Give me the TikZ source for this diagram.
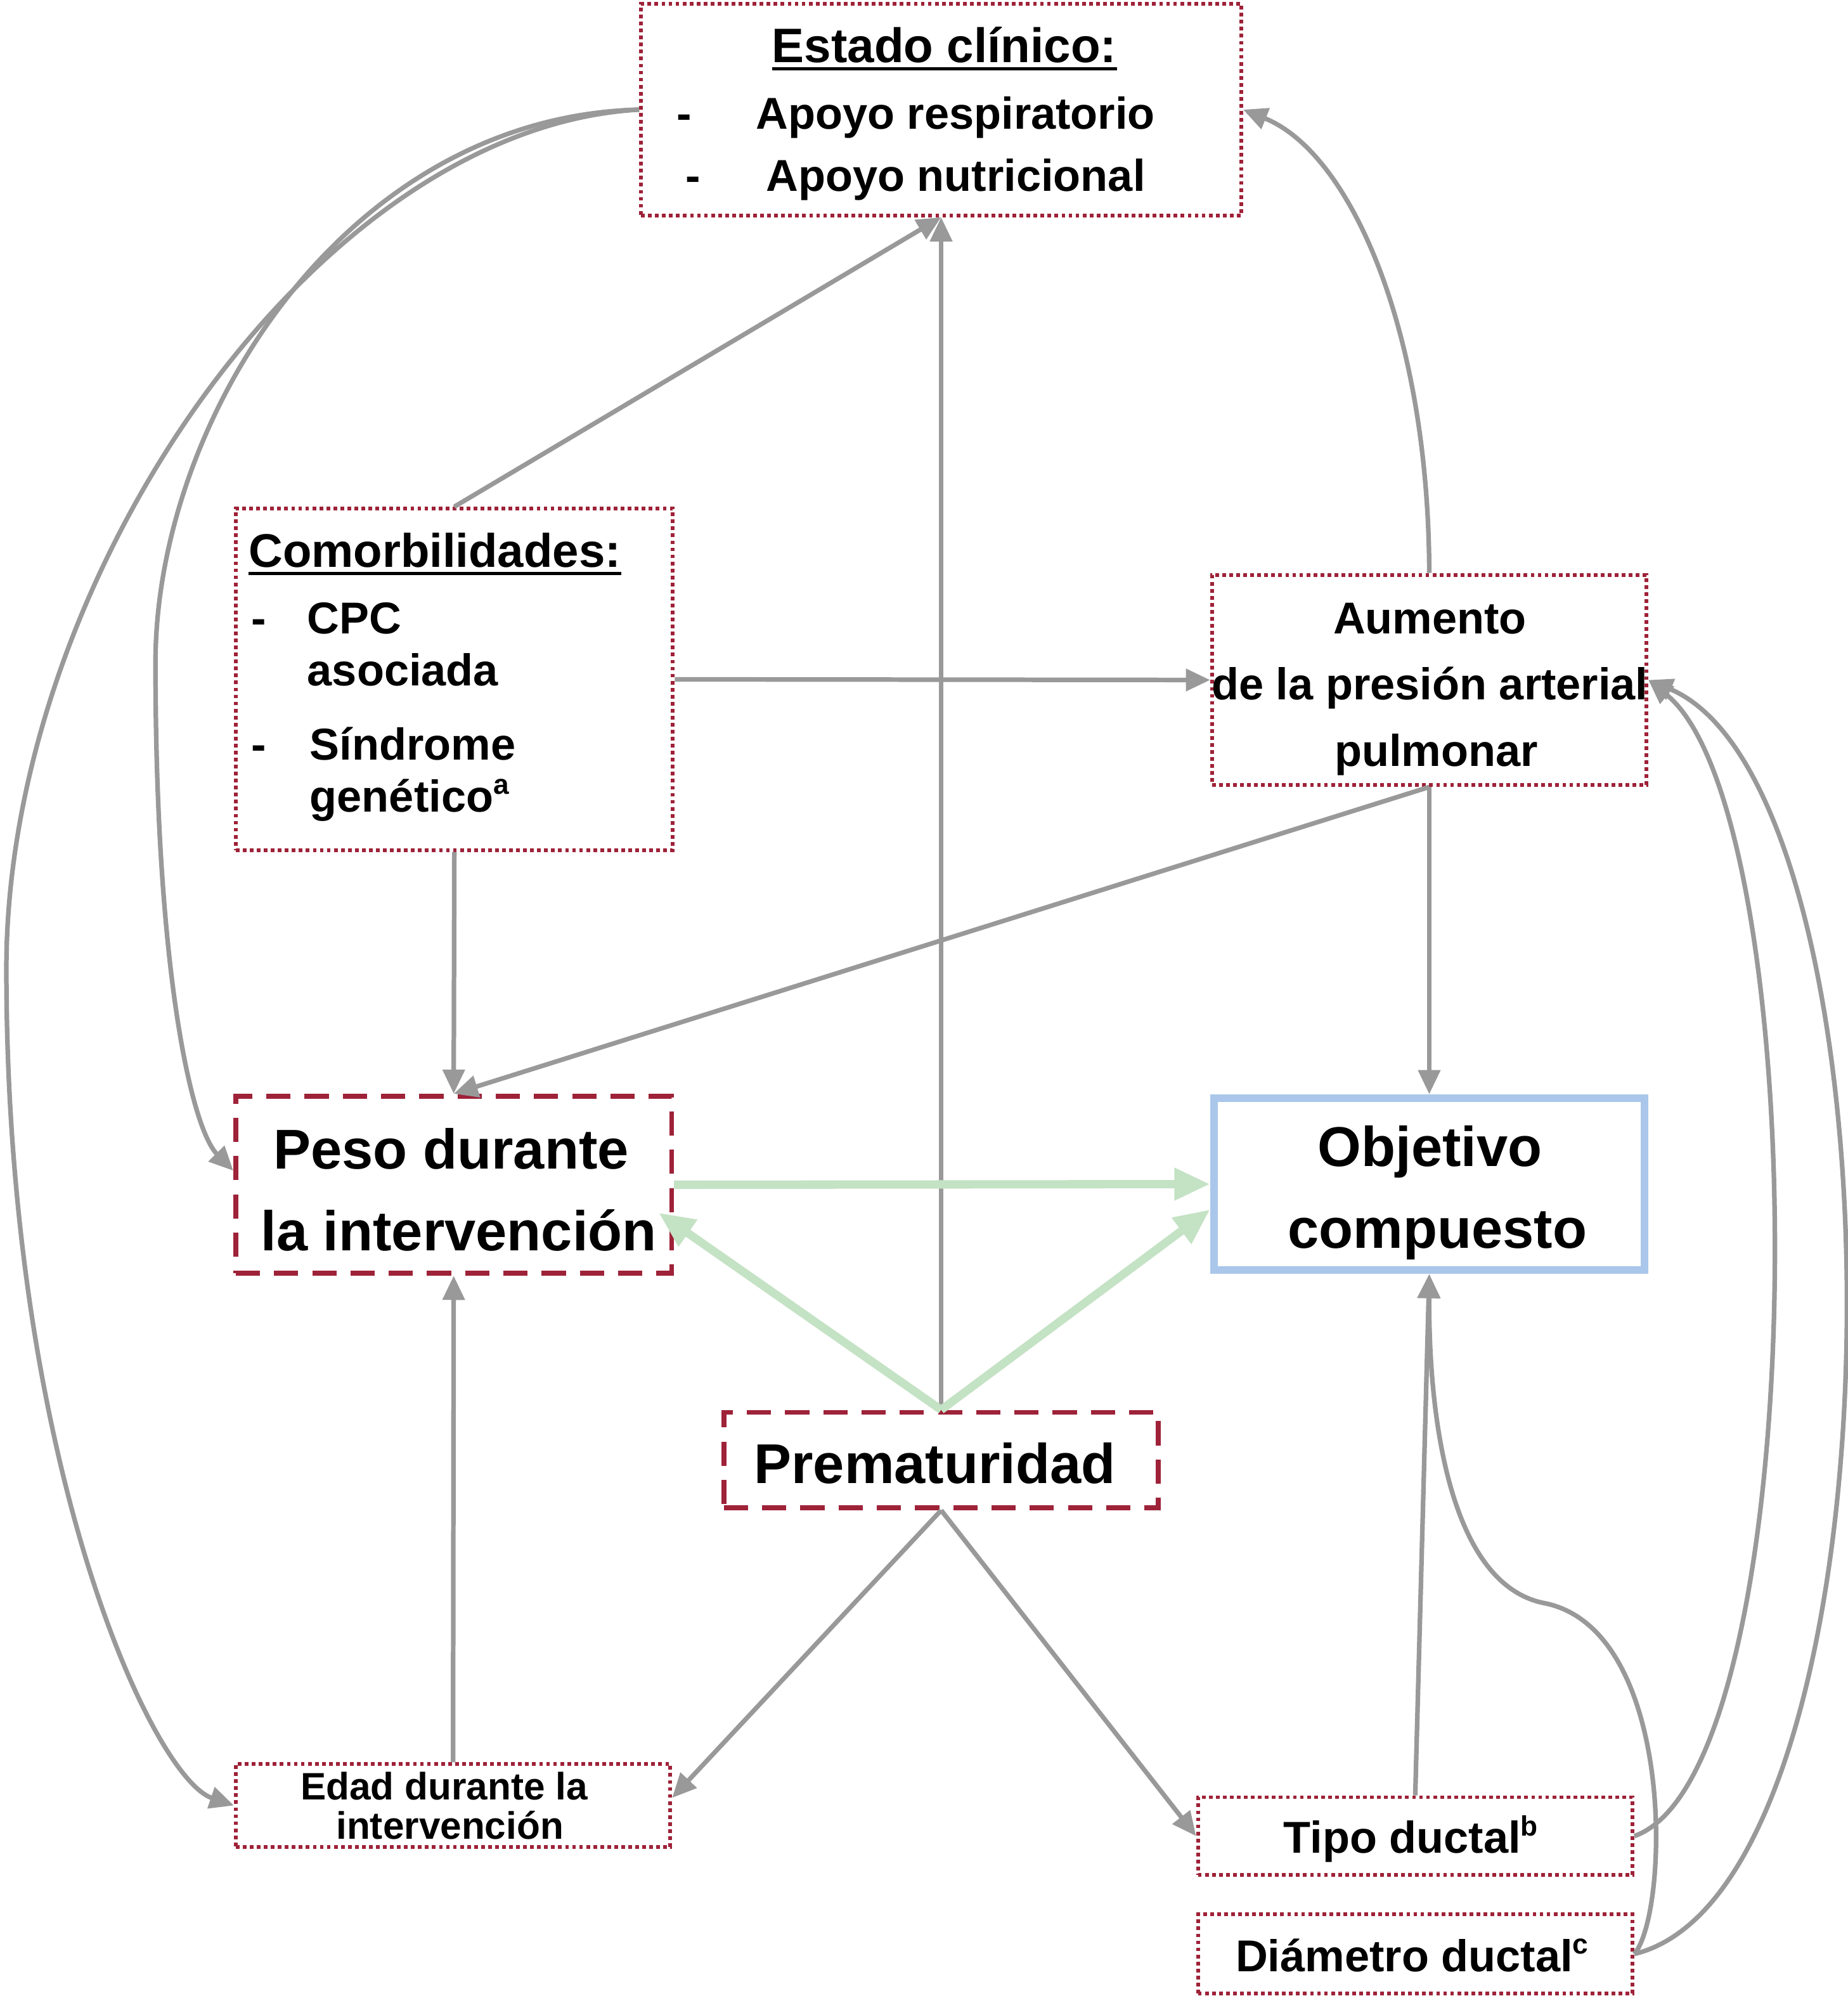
\documentclass[tikz,border=0pt]{standalone}
\usepackage{fontspec}
\setmainfont{Liberation Sans}
\usetikzlibrary{arrows.meta,calc}
\definecolor{boxred}{RGB}{158,34,56}
\definecolor{edgegray}{RGB}{153,153,153}
\definecolor{edgegreen}{RGB}{196,226,196}
\definecolor{objblue}{RGB}{170,199,235}
\newcommand{\supx}[1]{\raisebox{0.75ex}{\fontsize{22}{22}\selectfont #1}}
\begin{document}
\begin{tikzpicture}[x=1pt,y=-1pt,
  dotbox/.style={draw=boxred, line width=2.9pt, dash pattern=on 2.9pt off 2.6pt, fill=white, inner sep=0pt, rectangle},
  dashbox/.style={draw=boxred, line width=3.8pt, dash pattern=on 19pt off 11pt, fill=white, inner sep=0pt, rectangle},
  objbox/.style={draw=objblue, line width=6pt, fill=white, inner sep=0pt, rectangle},
  gline/.style={draw=edgegray, line width=3.6pt, -{Triangle[length=19pt,width=17pt]}},
  grnline/.style={draw=edgegreen, line width=6.5pt, -{Triangle[length=28pt,width=24pt]}},
  txt/.style={font=\bfseries\fontsize{35}{35}\selectfont, inner sep=0pt, anchor=base},
  ttl/.style={font=\bfseries\fontsize{38}{38}\selectfont, inner sep=0pt, anchor=base},
  big/.style={font=\bfseries\fontsize{44}{44}\selectfont, inner sep=0pt, anchor=base},
  sml/.style={font=\bfseries\fontsize{30}{30}\selectfont, inner sep=0pt, anchor=base},
  uline/.style={draw=black, line width=2.6pt}
]
\useasboundingbox[fill=white] (0,0) rectangle (1450,1566);

% boxes
\node[dotbox, minimum width=471pt, minimum height=166pt] (clin) at (738.5,86) {};
\node[dotbox, minimum width=343pt, minimum height=268pt] (comor) at (356.5,533) {};
\node[dotbox, minimum width=341pt, minimum height=165pt] (aum) at (1121.5,533.5) {};
\node[dashbox, minimum width=342pt, minimum height=139pt] (peso) at (356,929.5) {};
\node[objbox, minimum width=338pt, minimum height=135pt] (obj) at (1121.5,929) {};
\node[dashbox, minimum width=341pt, minimum height=75pt] (prem) at (738.5,1145.5) {};
\node[dotbox, minimum width=341pt, minimum height=65pt] (edad) at (355.5,1416.5) {};
\node[dotbox, minimum width=341pt, minimum height=61pt] (tipo) at (1110.5,1440.5) {};
\node[dotbox, minimum width=341pt, minimum height=62pt] (diam) at (1110.5,1533) {};

% texts: Estado clinico
\node[ttl] (clinT) at (741,49) {Estado clínico:};
\draw[uline] ($(clinT.base west)+(0,5)$) -- ($(clinT.base east)+(0,5)$);
\node[txt] (clinD1) at (537,101) {-};
\node[txt, anchor=base west] (clinL1) at (593,101) {Apoyo respiratorio};
\node[txt] (clinD2) at (544,150) {-};
\node[txt, anchor=base west] (clinL2) at (601,150) {Apoyo nutricional};

% Comorbilidades
\node[ttl, font=\bfseries\fontsize{37}{37}\selectfont, anchor=base west] (comT) at (195,445) {Comorbilidades:};
\draw[uline] ($(comT.base west)+(0,5)$) -- ($(comT.base east)+(0,5)$);
\node[txt] (comD1) at (203,497) {-};
\node[txt, anchor=base west] (comL1) at (241,497) {CPC};
\node[txt, anchor=base west] (comL2) at (241,538) {asociada};
\node[txt] (comD2) at (203,596) {-};
\node[txt, anchor=base west] (comL3) at (243,596) {Síndrome};
\node[txt, anchor=base west] (comL4) at (243,637) {genético\supx{a}};

% Aumento
\node[txt] (aumL1) at (1122,497) {Aumento};
\node[txt] (aumL2) at (1122,549) {de la presión arterial};
\node[txt] (aumL3) at (1127,601) {pulmonar};

% Peso
\node[big] (pesoL1) at (354,917) {Peso durante};
\node[big] (pesoL2) at (360,981) {la intervención};

% Objetivo
\node[big] (objL1) at (1122,915) {Objetivo};
\node[big] (objL2) at (1128,979) {compuesto};

% Prematuridad
\node[big] (premL) at (733.5,1164) {Prematuridad};

% Edad
\node[sml] (edadL1) at (348.5,1412) {Edad durante la};
\node[sml] (edadL2) at (353,1443) {intervención};

% Tipo / Diametro
\node[txt] (tipoL) at (1107,1454) {Tipo ductal\supx{b}};
\node[txt] (diamL) at (1108,1547) {Diámetro ductal\supx{c}};

% gray connectors
\draw[gline] (comor.north) -- (clin.south);
\draw[gline] (prem.north) -- (clin.south);
\draw[gline] (aum.north) .. controls (1121,260) and (1060,120) .. (clin.east);
\draw[gline] (clin.west) .. controls (270,92) and (122,330) .. (122,520) .. controls (122,760) and (150,885) .. ([yshift=11pt]peso.west);
\draw[gline] (clin.west) .. controls (250,100) and (5,450) .. (5,760) .. controls (5,1150) and (120,1395) .. (edad.west);
\draw[gline] (comor.east) -- (aum.west);
\draw[gline] (comor.south) -- (peso.north);
\draw[gline] (aum.south) -- (peso.north);
\draw[gline] (aum.south) -- (obj.north);
\draw[gline] (edad.north) -- (peso.south);
\draw[gline] (prem.south) -- ([yshift=6pt]edad.east);
\draw[gline] (prem.south) -- (tipo.west);
\draw[gline] (tipo.north) -- (obj.south);
\draw[gline] (diam.east) .. controls (1310,1500) and (1315,1280) .. (1213,1258) .. controls (1140,1245) and (1121,1120) .. (obj.south);
\draw[gline] (tipo.east) .. controls (1425,1390) and (1425,640) .. (aum.east);
\draw[gline] (diam.east) .. controls (1500,1480) and (1500,620) .. (aum.east);

% green connectors
\draw[grnline] (peso.east) -- (obj.west);
\draw[grnline] (prem.north) -- ([xshift=-12pt,yshift=-22pt]peso.east);
\draw[grnline] (prem.north) -- ([yshift=-20pt]obj.west);
\end{tikzpicture}
\end{document}
